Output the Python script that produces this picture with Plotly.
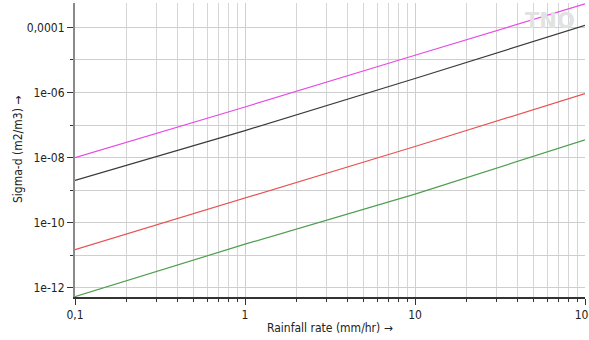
import plotly.graph_objects as go

# Data (log-log)
rain_rate = [0.1, 1, 10, 100]
sigma_magenta = [1.0e-8, 3.6e-7, 1.4e-5, 5.3e-4]
sigma_black = [2.0e-9, 6.8e-8, 2.7e-6, 1.15e-4]
sigma_red = [1.5e-11, 5.9e-10, 2.2e-8, 9.3e-7]
sigma_green = [5.4e-13, 2.2e-11, 7.6e-10, 3.5e-8]

x_major = [0.1, 1, 10, 100]
x_major_text = ["0,1", "1", "10", "100"]
x_minor = [m * d for d in (0.1, 1, 10) for m in range(2, 10)]
y_major = [1e-4, 1e-6, 1e-8, 1e-10, 1e-12]
y_major_text = ["0,0001", "1e-06", "1e-08", "1e-10", "1e-12"]
y_minor = [1e-5, 1e-7, 1e-9, 1e-11]

FONT = "DejaVu Sans Condensed, Tahoma, sans-serif"

fig = go.Figure()
series = [
    (sigma_magenta, "#e64ae6"),
    (sigma_black, "#3a3a3a"),
    (sigma_red, "#e85252"),
    (sigma_green, "#4e9e4e"),
]
for ys, col in series:
    fig.add_trace(go.Scatter(x=rain_rate, y=ys, mode="lines",
                             line=dict(color=col, width=1.2), showlegend=False))

fig.update_layout(
    width=589, height=340,
    margin=dict(l=75, r=4, t=3, b=43),
    paper_bgcolor="white", plot_bgcolor="white",
    font=dict(family=FONT, size=12, color="#222"),
    xaxis=dict(
        type="log", range=[-1, 2], automargin=False,
        tickmode="array", tickvals=x_major, ticktext=x_major_text,
        ticks="outside", ticklen=6, tickcolor="#333",
        ticklabeloverflow="allow",
        showgrid=True, gridcolor="#cfcfcf", gridwidth=1,
        showline=True, linecolor="#333", linewidth=1.5,
        minor=dict(tickvals=x_minor, ticks="outside", ticklen=3,
                   tickcolor="#333", showgrid=True, gridcolor="#d6d6d6", gridwidth=1),
        zeroline=False,
    ),
    yaxis=dict(
        type="log", range=[-12.28, -3.25], automargin=False,
        tickmode="array", tickvals=y_major, ticktext=y_major_text,
        ticks="outside", ticklen=6, tickcolor="#333",
        showgrid=True, gridcolor="#cfcfcf", gridwidth=1,
        showline=True, linecolor="#8a8a8a", linewidth=2,
        minor=dict(tickvals=y_minor, ticks="outside", ticklen=3,
                   tickcolor="#333", showgrid=True, gridcolor="#cfcfcf", gridwidth=1),
        zeroline=False,
    ),
)

# Axis titles
fig.add_annotation(
    xref="paper", yref="paper", x=0.5, y=0, yshift=-31, xanchor="center", yanchor="middle",
    text="Rainfall rate (mm/hr) →", showarrow=False, font=dict(size=12, color="#222"),
)
fig.add_annotation(
    xref="paper", yref="paper", x=0, xshift=-57, y=0.5, xanchor="center", yanchor="middle",
    text="Sigma-d (m2/m3) →", textangle=-90, showarrow=False, font=dict(size=12, color="#222"),
)

# Watermark
fig.add_annotation(
    xref="paper", yref="paper", x=0.985, y=1, yshift=-4, xanchor="right", yanchor="top",
    text="<b>TNO</b>", showarrow=False,
    font=dict(family="DejaVu Sans, sans-serif", size=21, color="#e2e2e2"),
)

fig.write_html("out.html",
               config={"displayModeBar": False},
               post_script="document.body.style.margin='0';document.body.style.overflow='hidden';")
